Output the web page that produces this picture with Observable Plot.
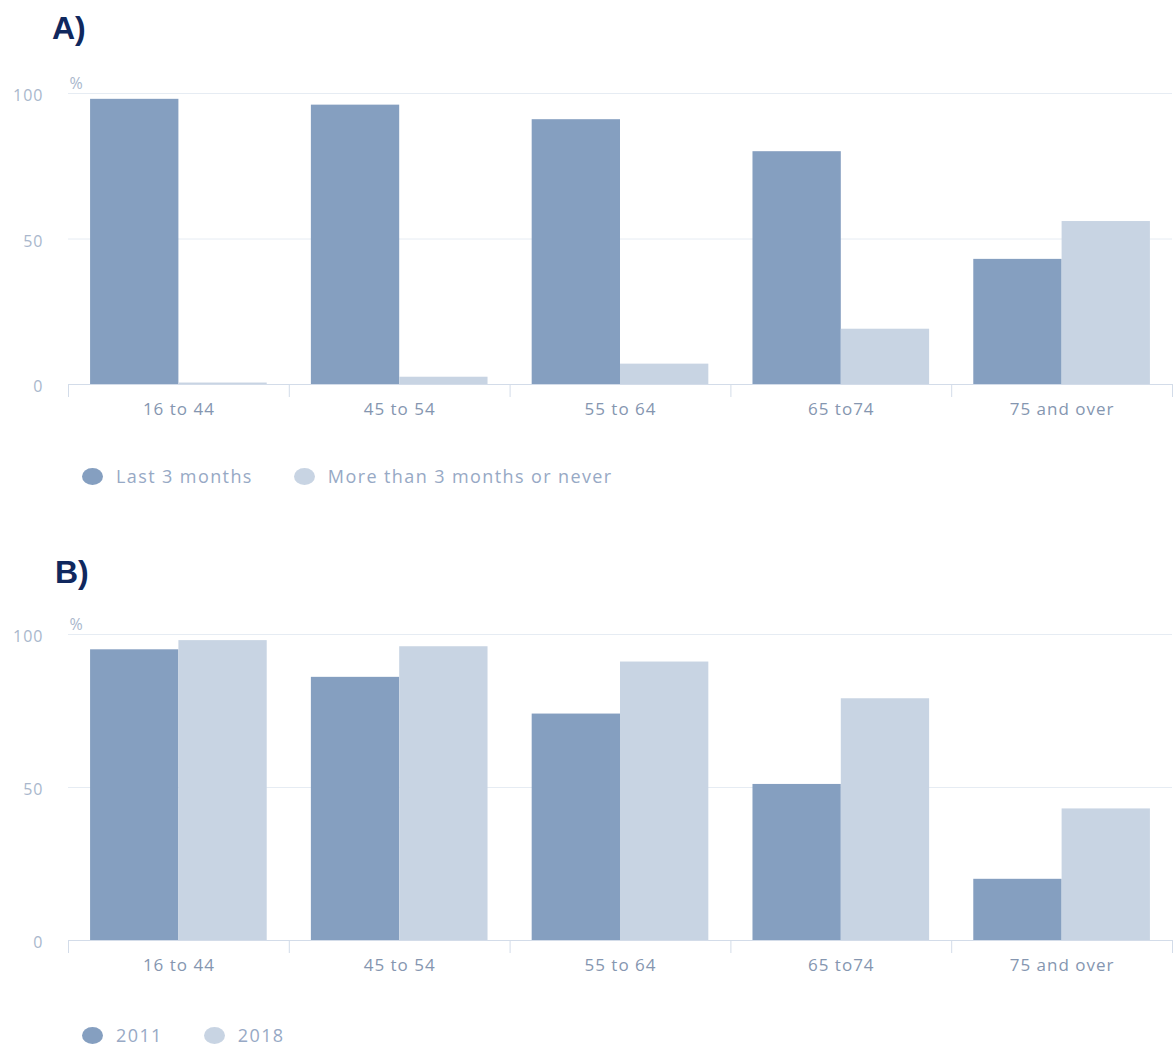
<!DOCTYPE html>
<html><head><meta charset="utf-8">
<script src="https://cdn.jsdelivr.net/npm/d3@7"></script>
<script src="https://cdn.jsdelivr.net/npm/@observablehq/plot@0.6"></script>
<style>
body{margin:0;background:#fff;}
#root{position:relative;width:1173px;height:1048px;overflow:hidden;font-family:"Open Sans",sans-serif;}
.title{position:absolute;font-family:"Liberation Sans",Arial,sans-serif;font-weight:bold;font-size:32px;line-height:32px;color:#10285e;}
.chart{position:absolute;left:0;}
.chart svg text{letter-spacing:1px;}
.legend{position:absolute;left:82px;display:flex;align-items:center;height:20px;font-size:18px;letter-spacing:1.4px;color:#97a9c5;}
.sw{width:21px;height:17px;border-radius:50%;margin-right:13px;}
.item{display:flex;align-items:center;margin-right:41px;white-space:nowrap;}
</style></head><body><div id="root"></div>
<script>
const categories = ["16 to 44", "45 to 54", "55 to 64", "65 to74", "75 and over"];
const seriesA = ["Last 3 months", "More than 3 months or never"];
const lastThreeMonths = [98, 96, 91, 80, 43];
const moreThanThreeMonths = [0.5, 2.5, 7, 19, 56];
const seriesB = ["2011", "2018"];
const values2011 = [95, 86, 74, 51, 20];
const values2018 = [98, 96, 91, 79, 43];
const yTicks = [0, 50, 100];
const colors = ["#859fc0", "#c8d4e3"];

const root = document.getElementById("root");

function addTitle(text, left, top) {
  const d = document.createElement("div");
  d.className = "title";
  d.textContent = text;
  d.style.left = left + "px";
  d.style.top = top + "px";
  root.appendChild(d);
}

function addLegend(series, top) {
  const lg = document.createElement("div");
  lg.className = "legend";
  lg.style.top = top + "px";
  series.forEach((s, j) => {
    const it = document.createElement("div");
    it.className = "item";
    const sw = document.createElement("div");
    sw.className = "sw";
    sw.style.background = colors[j];
    const t = document.createElement("span");
    t.textContent = s;
    it.appendChild(sw);
    it.appendChild(t);
    lg.appendChild(it);
  });
  root.appendChild(lg);
}

function addChart(series, valueLists, top, marginTop, plotHeight) {
  const rows = [];
  valueLists.forEach((vals, j) => vals.forEach((v, i) => rows.push({i, j, series: series[j], value: v})));
  const groupPad = 0.1, barW = 0.4;
  const chart = Plot.plot({
    width: 1173,
    height: marginTop + plotHeight + 40,
    marginLeft: 68,
    marginRight: 1,
    marginTop: marginTop,
    marginBottom: 40,
    x: {domain: [0, categories.length], axis: null},
    y: {domain: [0, 100], axis: null},
    color: {domain: series, range: colors},
    style: {fontFamily: "Open Sans", background: "transparent", overflow: "visible"},
    marks: [
      Plot.gridY(yTicks, {stroke: "#e6ecf3", strokeOpacity: 1}),
      Plot.axisY(yTicks, {tickSize: 0, tickPadding: 25, fontSize: 16, fill: "#a9b7cc", dy: 2.5, label: null}),
      Plot.rectY(rows, {
        x1: d => d.i + groupPad + barW * d.j,
        x2: d => d.i + groupPad + barW * (d.j + 1),
        y1: 0,
        y2: "value",
        fill: "series"
      }),
      Plot.ruleY([0], {stroke: "#d3dce9"}),
      Plot.axisX(d3.range(categories.length + 1), {tickSize: 13, stroke: "#d3dce9", strokeOpacity: 1, tickFormat: () => "", label: null}),
      Plot.axisX(categories.map((c, i) => i + 0.5), {
        tickSize: 0, tickPadding: 18, fontSize: 17, fill: "#8596b0", label: null,
        tickFormat: d => categories[Math.floor(d)]
      }),
      Plot.text(["%"], {frameAnchor: "top-left", textAnchor: "start", lineAnchor: "middle", dx: 1, dy: -10, fontSize: 16, fill: "#a9b7cc"})
    ]
  });
  const wrap = document.createElement("div");
  wrap.className = "chart";
  wrap.style.top = top + "px";
  wrap.appendChild(chart);
  root.appendChild(wrap);
}

addTitle("A)", 52, 12);
addChart(seriesA, [lastThreeMonths, moreThanThreeMonths], 60, 33, 291);
addLegend(seriesA, 466);

addTitle("B)", 55, 556);
addChart(seriesB, [values2011, values2018], 600, 34, 306);
addLegend(seriesB, 1025);
</script>
</body></html>
